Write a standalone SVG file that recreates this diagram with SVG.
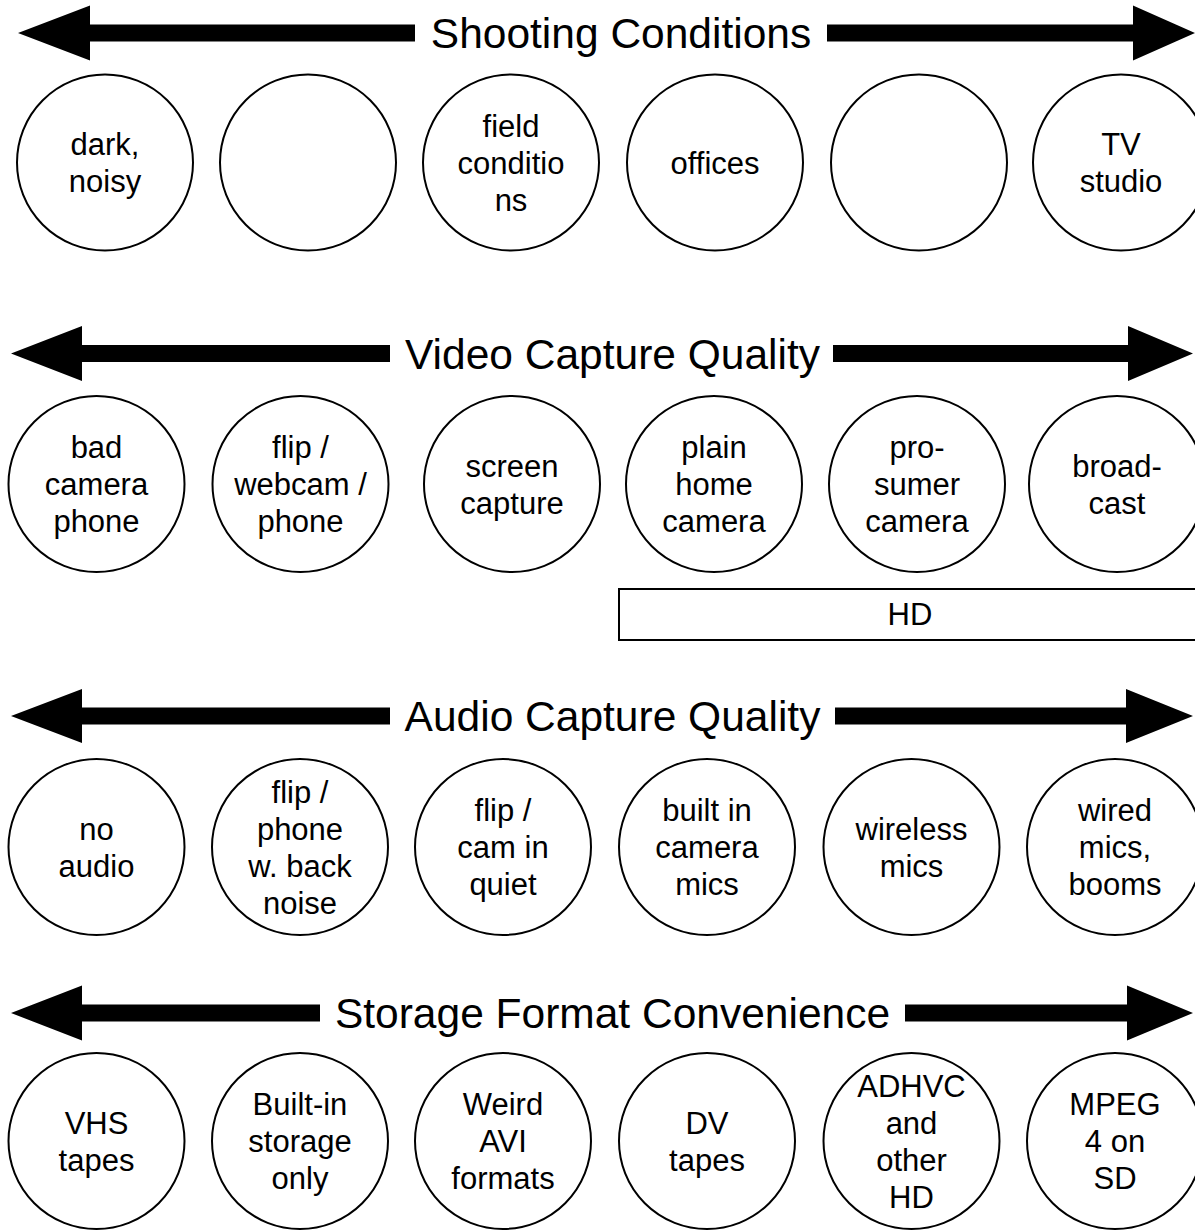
<svg xmlns="http://www.w3.org/2000/svg" width="1195" height="1230" viewBox="0 0 1195 1230">
<style>
text{font-family:"Liberation Sans",Arial,sans-serif;fill:#000;text-anchor:middle}
.t{font-size:42.5px}
.n{font-size:31px}
circle,.box{fill:#fff;stroke:#000;stroke-width:2}
.ar{fill:#000}
</style>
<rect width="1195" height="1230" fill="#fff"/>
<g id="connectors">
<!-- Row 1 -->
<polygon class="ar" points="18,33 90,5.5 90,24.5 415,24.5 415,41.5 90,41.5 90,60.5"/>
<polygon class="ar" points="1195,33 1133,5.5 1133,24.5 827,24.5 827,41.5 1133,41.5 1133,60.5"/>
<!-- Row 2 -->
<polygon class="ar" points="11,353.5 82,326 82,345 390,345 390,362 82,362 82,381"/>
<polygon class="ar" points="1193,353.5 1128,326 1128,345 833,345 833,362 1128,362 1128,381"/>
<!-- Row 3 -->
<polygon class="ar" points="11,716 82,689 82,707.5 390,707.5 390,724.5 82,724.5 82,743"/>
<polygon class="ar" points="1193,716 1126,689 1126,707.5 835,707.5 835,724.5 1126,724.5 1126,743"/>
<!-- Row 4 -->
<polygon class="ar" points="11,1013 82,985.5 82,1004.5 320,1004.5 320,1021.5 82,1021.5 82,1040.5"/>
<polygon class="ar" points="1193,1013 1127,985.5 1127,1004.5 905,1004.5 905,1021.5 1127,1021.5 1127,1040.5"/>
</g>
<g id="titles">
<text class="t" x="621" y="48">Shooting Conditions</text>
<text class="t" x="612.5" y="368.5">Video Capture Quality</text>
<text class="t" x="612.5" y="731">Audio Capture Quality</text>
<text class="t" x="612.5" y="1028">Storage Format Convenience</text>
</g>
<!-- Row 1 -->
<g id="s1"><circle cx="105" cy="162.5" r="88"/><text class="n" x="105" y="155">dark,</text><text class="n" x="105" y="192">noisy</text></g>
<g id="s2"><circle cx="308" cy="162.5" r="88"/></g>
<g id="s3"><circle cx="511" cy="162.5" r="88"/><text class="n" x="511" y="136.5">field</text><text class="n" x="511" y="173.5">conditio</text><text class="n" x="511" y="210.5">ns</text></g>
<g id="s4"><circle cx="715" cy="162.5" r="88"/><text class="n" x="715" y="173.5">offices</text></g>
<g id="s5"><circle cx="919" cy="162.5" r="88"/></g>
<g id="s6"><circle cx="1121" cy="162.5" r="88"/><text class="n" x="1121" y="155">TV</text><text class="n" x="1121" y="192">studio</text></g>
<!-- Row 2 -->
<g id="v1"><circle cx="96.5" cy="484" r="88"/><text class="n" x="96.5" y="458">bad</text><text class="n" x="96.5" y="495">camera</text><text class="n" x="96.5" y="532">phone</text></g>
<g id="v2"><circle cx="300.5" cy="484" r="88"/><text class="n" x="300.5" y="458">flip /</text><text class="n" x="300.5" y="495">webcam /</text><text class="n" x="300.5" y="532">phone</text></g>
<g id="v3"><circle cx="512" cy="484" r="88"/><text class="n" x="512" y="476.5">screen</text><text class="n" x="512" y="513.5">capture</text></g>
<g id="v4"><circle cx="714" cy="484" r="88"/><text class="n" x="714" y="458">plain</text><text class="n" x="714" y="495">home</text><text class="n" x="714" y="532">camera</text></g>
<g id="v5"><circle cx="917" cy="484" r="88"/><text class="n" x="917" y="458">pro-</text><text class="n" x="917" y="495">sumer</text><text class="n" x="917" y="532">camera</text></g>
<g id="v6"><circle cx="1117" cy="484" r="88"/><text class="n" x="1117" y="476.5">broad-</text><text class="n" x="1117" y="513.5">cast</text></g>
<g id="hd"><rect class="box" x="619" y="589" width="590" height="51"/><text class="n" x="910" y="625">HD</text></g>
<!-- Row 3 -->
<g id="a1"><circle cx="96.5" cy="847" r="88"/><text class="n" x="96.5" y="839.5">no</text><text class="n" x="96.5" y="876.5">audio</text></g>
<g id="a2"><circle cx="300" cy="847" r="88"/><text class="n" x="300" y="802.5">flip /</text><text class="n" x="300" y="839.5">phone</text><text class="n" x="300" y="876.5">w. back</text><text class="n" x="300" y="913.5">noise</text></g>
<g id="a3"><circle cx="503" cy="847" r="88"/><text class="n" x="503" y="821">flip /</text><text class="n" x="503" y="858">cam in</text><text class="n" x="503" y="895">quiet</text></g>
<g id="a4"><circle cx="707" cy="847" r="88"/><text class="n" x="707" y="821">built in</text><text class="n" x="707" y="858">camera</text><text class="n" x="707" y="895">mics</text></g>
<g id="a5"><circle cx="911.5" cy="847" r="88"/><text class="n" x="911.5" y="839.5">wireless</text><text class="n" x="911.5" y="876.5">mics</text></g>
<g id="a6"><circle cx="1115" cy="847" r="88"/><text class="n" x="1115" y="821">wired</text><text class="n" x="1115" y="858">mics,</text><text class="n" x="1115" y="895">booms</text></g>
<!-- Row 4 -->
<g id="f1"><circle cx="96.5" cy="1141" r="88"/><text class="n" x="96.5" y="1133.5">VHS</text><text class="n" x="96.5" y="1170.5">tapes</text></g>
<g id="f2"><circle cx="300" cy="1141" r="88"/><text class="n" x="300" y="1115">Built-in</text><text class="n" x="300" y="1152">storage</text><text class="n" x="300" y="1189">only</text></g>
<g id="f3"><circle cx="503" cy="1141" r="88"/><text class="n" x="503" y="1115">Weird</text><text class="n" x="503" y="1152">AVI</text><text class="n" x="503" y="1189">formats</text></g>
<g id="f4"><circle cx="707" cy="1141" r="88"/><text class="n" x="707" y="1133.5">DV</text><text class="n" x="707" y="1170.5">tapes</text></g>
<g id="f5"><circle cx="911.5" cy="1141" r="88"/><text class="n" x="911.5" y="1096.5">ADHVC</text><text class="n" x="911.5" y="1133.5">and</text><text class="n" x="911.5" y="1170.5">other</text><text class="n" x="911.5" y="1207.5">HD</text></g>
<g id="f6"><circle cx="1115" cy="1141" r="88"/><text class="n" x="1115" y="1115">MPEG</text><text class="n" x="1115" y="1152">4 on</text><text class="n" x="1115" y="1189">SD</text></g>
</svg>
